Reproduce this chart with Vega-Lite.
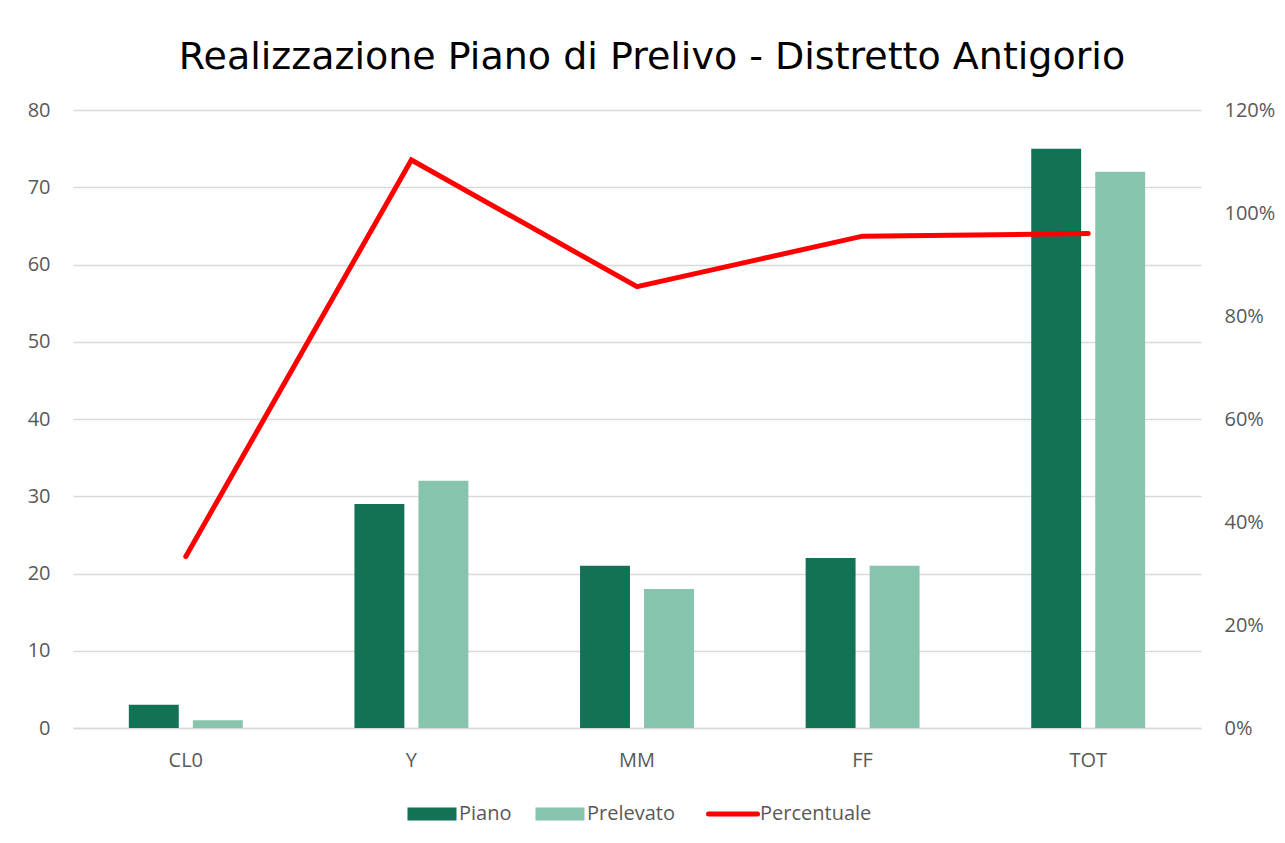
{
  "$schema": "https://vega.github.io/schema/vega-lite/v6.json",
  "width": 1128,
  "height": 618,
  "autosize": "none",
  "padding": {"left": 73, "top": 110, "right": 84, "bottom": 115},
  "background": "white",
  "title": {
    "text": "Realizzazione Piano di Prelivo - Distretto Antigorio",
    "font": "DejaVu Sans",
    "fontSize": 38,
    "fontWeight": "normal",
    "color": "#000000",
    "anchor": "middle",
    "baseline": "alphabetic",
    "offset": 42,
    "dy": 49,
    "dx": 15
  },
  "config": {
    "view": {"stroke": null},
    "font": "Open Sans"
  },
  "data": {
    "values": [
      {"cat": "CL0", "serie": "Piano", "valore": 3},
      {"cat": "CL0", "serie": "Prelevato", "valore": 1},
      {"cat": "Y", "serie": "Piano", "valore": 29},
      {"cat": "Y", "serie": "Prelevato", "valore": 32},
      {"cat": "MM", "serie": "Piano", "valore": 21},
      {"cat": "MM", "serie": "Prelevato", "valore": 18},
      {"cat": "FF", "serie": "Piano", "valore": 22},
      {"cat": "FF", "serie": "Prelevato", "valore": 21},
      {"cat": "TOT", "serie": "Piano", "valore": 75},
      {"cat": "TOT", "serie": "Prelevato", "valore": 72},
      {"cat": "CL0", "serie": "Percentuale", "pct": 0.333},
      {"cat": "Y", "serie": "Percentuale", "pct": 1.103},
      {"cat": "MM", "serie": "Percentuale", "pct": 0.857},
      {"cat": "FF", "serie": "Percentuale", "pct": 0.955},
      {"cat": "TOT", "serie": "Percentuale", "pct": 0.96}
    ]
  },
  "encoding": {
    "x": {
      "field": "cat",
      "type": "nominal",
      "sort": ["CL0", "Y", "MM", "FF", "TOT"],
      "scale": {"paddingInner": 0.495, "paddingOuter": 0.2475},
      "axis": {
        "title": null,
        "labelAngle": 0,
        "labelFont": "Open Sans",
        "labelFontSize": 20,
        "labelColor": "#595959",
        "domain": true,
        "domainColor": "#D9D9D9",
        "domainWidth": 1.5,
        "ticks": false,
        "labelPadding": 22,
        "grid": false
      }
    }
  },
  "layer": [
    {
      "transform": [{"filter": "datum.serie !== 'Percentuale'"}],
      "mark": {"type": "bar"},
      "encoding": {
        "xOffset": {
          "field": "serie",
          "sort": ["Piano", "Prelevato"],
          "scale": {"paddingInner": 0.22}
        },
        "y": {
          "field": "valore",
          "type": "quantitative",
          "scale": {"domain": [0, 80], "nice": false},
          "axis": {
            "orient": "left",
            "title": null,
            "values": [0, 10, 20, 30, 40, 50, 60, 70, 80],
            "grid": true,
            "gridColor": "#D9D9D9",
            "gridWidth": 1.5,
            "domain": false,
            "ticks": false,
            "labelFont": "Open Sans",
            "labelFontSize": 20,
            "labelColor": "#595959",
            "labelPadding": 23
          }
        },
        "color": {
          "field": "serie",
          "type": "nominal",
          "scale": {
            "domain": ["Piano", "Prelevato", "Percentuale"],
            "range": ["#117256", "#86C4AE", "#FF0000"]
          },
          "legend": {
            "orient": "none",
            "legendX": 349,
            "legendY": 694,
            "direction": "horizontal",
            "title": null,
            "labelFont": "Open Sans",
            "labelFontSize": 20,
            "labelColor": "#595959",
            "labelOffset": 17,
            "columnPadding": 23,
            "symbolSize": 2401,
            "symbolType": "M-1,-0.265H1V0.265H-1Z",
            "encode": {
              "symbols": {
                "update": {
                  "shape": {"signal": "datum.value === 'Percentuale' ? 'M-1,0H1' : 'M-1,-0.265H1V0.265H-1Z'"},
                  "stroke": {"signal": "datum.value === 'Percentuale' ? '#FF0000' : 'transparent'"},
                  "strokeWidth": {"signal": "datum.value === 'Percentuale' ? 5 : 0"},
                  "strokeCap": {"value": "round"}
                }
              }
            }
          }
        }
      }
    },
    {
      "transform": [{"filter": "datum.serie === 'Percentuale'"}],
      "mark": {"type": "line", "strokeWidth": 5, "strokeCap": "round", "strokeJoin": "miter"},
      "encoding": {
        "y": {
          "field": "pct",
          "type": "quantitative",
          "scale": {"domain": [0, 1.2], "nice": false},
          "axis": {
            "orient": "right",
            "title": null,
            "format": ".0%",
            "values": [0, 0.2, 0.4, 0.6, 0.8, 1.0, 1.2],
            "grid": false,
            "domain": false,
            "ticks": false,
            "labelFont": "Open Sans",
            "labelFontSize": 20,
            "labelColor": "#595959",
            "labelPadding": 23
          }
        },
        "color": {
          "field": "serie",
          "type": "nominal",
          "legend": null
        }
      }
    }
  ],
  "resolve": {"scale": {"y": "independent"}}
}
